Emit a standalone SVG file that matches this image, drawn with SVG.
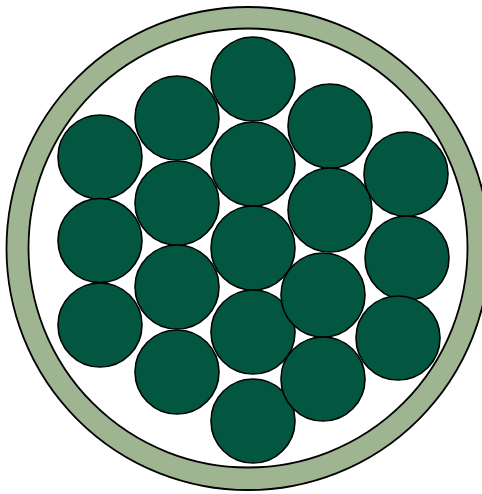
<svg xmlns="http://www.w3.org/2000/svg" width="482" height="494" viewBox="0 0 482 494">
<style>
.wire{fill:#03563f;stroke:#000;stroke-width:1.6}
.ring{fill:#9fb592;stroke:#000;stroke-width:1.8}
.core{fill:#fff;stroke:#000;stroke-width:1.8}
</style>
<rect width="482" height="494" fill="#fff"/>
<g id="sheath">
<circle class="ring" cx="248" cy="248.5" r="241.5"/>
<circle class="core" cx="248" cy="248" r="219.5"/>
</g>
<g id="wires">
<g id="w1"><circle class="wire" cx="100" cy="157" r="42"/></g>
<g id="w2"><circle class="wire" cx="100" cy="240.5" r="42"/></g>
<g id="w3"><circle class="wire" cx="100" cy="325" r="42"/></g>
<g id="w4"><circle class="wire" cx="177" cy="118" r="42"/></g>
<g id="w5"><circle class="wire" cx="177" cy="203" r="42"/></g>
<g id="w6"><circle class="wire" cx="177" cy="287" r="42"/></g>
<g id="w7"><circle class="wire" cx="177" cy="372" r="42"/></g>
<g id="w8"><circle class="wire" cx="253" cy="79" r="42"/></g>
<g id="w9"><circle class="wire" cx="253" cy="164" r="42"/></g>
<g id="w10"><circle class="wire" cx="253" cy="248" r="42"/></g>
<g id="w11"><circle class="wire" cx="253" cy="332" r="42"/></g>
<g id="w12"><circle class="wire" cx="253" cy="421" r="42"/></g>
<g id="w13"><circle class="wire" cx="330" cy="126" r="42"/></g>
<g id="w14"><circle class="wire" cx="330" cy="210" r="42"/></g>
<g id="w15"><circle class="wire" cx="323" cy="295" r="42"/></g>
<g id="w16"><circle class="wire" cx="323" cy="379" r="42"/></g>
<g id="w17"><circle class="wire" cx="406" cy="174" r="42"/></g>
<g id="w18"><circle class="wire" cx="407" cy="258" r="42"/></g>
<g id="w19"><circle class="wire" cx="398" cy="338" r="42"/></g>
</g>
<g id="connectors"/>
</svg>
